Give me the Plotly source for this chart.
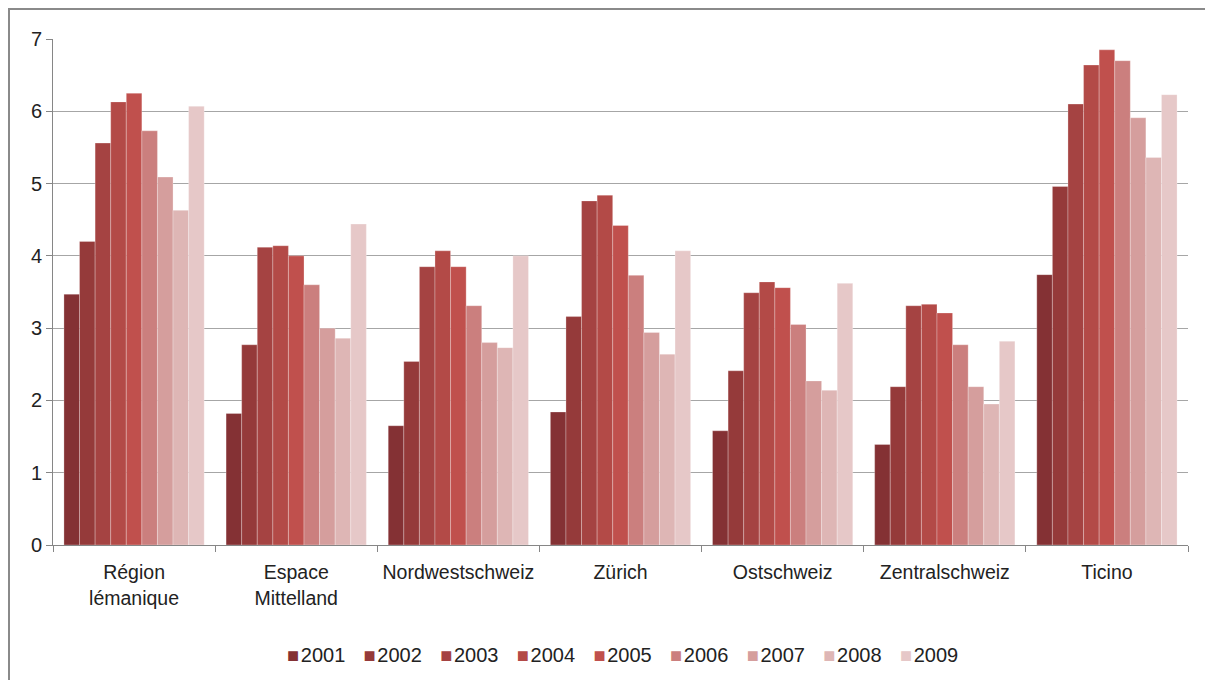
import plotly.graph_objects as go

regions = ["Région<br>lémanique", "Espace<br>Mittelland", "Nordwestschweiz", "Zürich",
           "Ostschweiz", "Zentralschweiz", "Ticino"]
years = ["2001", "2002", "2003", "2004", "2005", "2006", "2007", "2008", "2009"]

# values per year, one entry per region (in regions order)
v2001 = [3.47, 1.82, 1.65, 1.84, 1.58, 1.39, 3.74]
v2002 = [4.20, 2.77, 2.54, 3.16, 2.41, 2.19, 4.96]
v2003 = [5.56, 4.12, 3.85, 4.76, 3.49, 3.31, 6.10]
v2004 = [6.13, 4.14, 4.07, 4.84, 3.64, 3.33, 6.64]
v2005 = [6.25, 4.00, 3.85, 4.42, 3.56, 3.21, 6.85]
v2006 = [5.73, 3.60, 3.31, 3.73, 3.05, 2.77, 6.70]
v2007 = [5.09, 3.00, 2.80, 2.94, 2.27, 2.19, 5.91]
v2008 = [4.63, 2.86, 2.73, 2.64, 2.14, 1.95, 5.36]
v2009 = [6.07, 4.44, 4.00, 4.07, 3.62, 2.82, 6.23]
series = [v2001, v2002, v2003, v2004, v2005, v2006, v2007, v2008, v2009]

colors = ["#843134", "#953A3A", "#A54342", "#B34A47", "#C0504D",
          "#CB7F7E", "#D59E9D", "#DEB6B5", "#E6C8C8"]

W, H = 1205, 672
L, R, T, B = 45, 25, 31, 135
PW, PH = W - L - R, H - T - B

fig = go.Figure()
for yr, vals, c in zip(years, series, colors):
    fig.add_trace(go.Bar(
        name=yr, x=regions, y=vals, showlegend=False,
        marker=dict(color=c, line=dict(width=0.6, color="rgba(255,255,255,0.45)")),
    ))

# legend drawn as text with coloured squares
legend_parts = []
for yr, c in zip(years, colors):
    legend_parts.append(
        f'<span style="color:{c};font-size:20px">■</span>\u200a{yr}'
    )
legend_text = "\u00a0\u00a0\u00a0\u200a".join(legend_parts)

fig.add_annotation(
    text=legend_text, xref="paper", yref="paper",
    x=(614 - L) / PW, y=(PH + T - 647) / PH, xanchor="center", yanchor="middle",
    showarrow=False, font=dict(size=20, color="#222222"),
)

fig.update_layout(
    width=W, height=H,
    barmode="group", bargap=0.135, bargroupgap=0,
    paper_bgcolor="white", plot_bgcolor="white",
    margin=dict(l=L, r=R, t=T, b=B, autoexpand=False),
    font=dict(family="Liberation Sans, Arial, sans-serif", size=20, color="#222222"),
    xaxis=dict(showline=True, linecolor="#868686", linewidth=1,
               ticks="outside", tickson="boundaries", ticklen=6, tickcolor="#868686",
               showgrid=False, tickfont=dict(size=19.5), tickangle=0,
               ticklabelstandoff=10),
    yaxis=dict(range=[0, 7], dtick=1, showline=True, linecolor="#868686", linewidth=1,
               ticks="outside", ticklen=6, tickcolor="#868686",
               showgrid=True, gridcolor="#A6A6A6", gridwidth=1,
               tickfont=dict(size=20), zeroline=False),
)

fig.add_shape(type="rect", xref="paper", yref="paper",
              x0=(-L + 1) / PW, x1=1.2, y0=-0.6, y1=(PH + T - 1) / PH,
              line=dict(color="#8A8A8A", width=2), fillcolor="rgba(0,0,0,0)", layer="below")

fig.write_html("out.html")
